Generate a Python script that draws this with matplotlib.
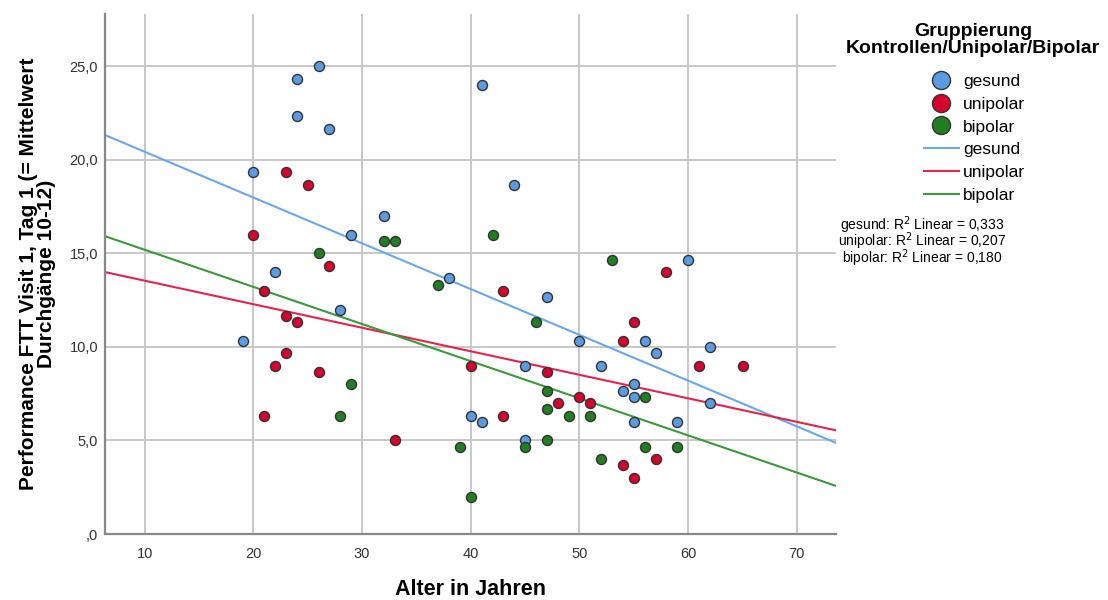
import numpy as np
import matplotlib
matplotlib.use("Agg")
import matplotlib.pyplot as plt
from matplotlib.lines import Line2D
from matplotlib.ticker import FuncFormatter

plt.rcParams['font.family'] = ['Liberation Sans', 'DejaVu Sans']

# Alter / Performance per group
gesund_age = [26, 24, 24, 27, 20, 29, 22, 28, 19, 41, 44, 32, 38, 47, 50, 45, 40, 41, 45,
              60, 56, 62, 57, 52, 55, 54, 55, 62, 55, 59]
gesund_perf = [25.0, 24.33, 22.33, 21.67, 19.33, 16.0, 14.0, 12.0, 10.33, 24.0, 18.67, 17.0,
               13.67, 12.67, 10.33, 9.0, 6.33, 6.0, 5.0, 14.67, 10.33, 10.0, 9.67, 9.0, 8.0,
               7.67, 7.33, 7.0, 6.0, 6.0]

unipolar_age = [23, 25, 20, 27, 21, 23, 24, 23, 22, 26, 21, 43, 40, 47, 50, 48, 43, 33,
                58, 55, 54, 61, 65, 51, 57, 54, 55]
unipolar_perf = [19.33, 18.67, 16.0, 14.33, 13.0, 11.67, 11.33, 9.67, 9.0, 8.67, 6.33, 13.0,
                 9.0, 8.67, 7.33, 7.0, 6.33, 5.0, 14.0, 11.33, 10.33, 9.0, 9.0, 7.0, 4.0,
                 3.67, 3.0]

bipolar_age = [26, 29, 28, 32, 33, 42, 37, 46, 47, 47, 49, 51, 39, 45, 47, 40, 53, 56, 56,
               59, 52]
bipolar_perf = [15.0, 8.0, 6.33, 15.67, 15.67, 16.0, 13.33, 11.33, 7.67, 6.67, 6.33, 6.33,
                4.67, 4.67, 5.0, 2.0, 14.67, 7.33, 4.67, 4.67, 4.0]

group_names = ["gesund", "unipolar", "bipolar"]
r2_values = ["0,333", "0,207", "0,180"]
# fit lines as shown in the chart (intercept, slope)
fit_intercepts = [22.88, 14.80, 17.18]
fit_slopes = [-0.2447, -0.1258, -0.1985]

dot_colors = ["#5A9BE2", "#D8002C", "#217F21"]
line_colors = ["#6AA8EE", "#E2254C", "#3A9A3A"]

fig = plt.figure(figsize=(11.08, 6.0), dpi=100)
ax = fig.add_axes([0.0948, 0.11, 0.6597, 0.8667])

xlim = (6.35, 73.6)
ax.set_xlim(*xlim)
ax.set_ylim(0, 27.8)

groups = [(gesund_age, gesund_perf), (unipolar_age, unipolar_perf), (bipolar_age, bipolar_perf)]

xs = np.array(xlim)
for b0, b1, lc in zip(fit_intercepts, fit_slopes, line_colors):
    ax.plot(xs, b0 + b1 * xs, color=lc, lw=1.5, zorder=2)

for (age, perf), dc in zip(groups, dot_colors):
    ax.scatter(age, perf, s=52, color=dc, edgecolors="#333333", linewidths=1.0, zorder=3)

ax.set_xticks([10, 20, 30, 40, 50, 60, 70])
ax.set_yticks([0, 5, 10, 15, 20, 25])
ax.yaxis.set_major_formatter(FuncFormatter(lambda v, p: f"{v:.1f}".replace(".", ",").lstrip("0")))
ax.grid(True, color="#C8C8C8", lw=1.4)
ax.set_axisbelow(True)
ax.tick_params(length=0, labelsize=10.5, colors="#333333")
ax.tick_params(axis="y", pad=5)
ax.tick_params(axis="x", pad=9)

for s in ["top", "right"]:
    ax.spines[s].set_visible(False)
for s in ["left", "bottom"]:
    ax.spines[s].set_color("#888888")
    ax.spines[s].set_linewidth(1.6)

ax.set_xlabel("Alter in Jahren", fontsize=15.5, fontweight="bold", labelpad=13)
ax.set_ylabel("Performance FTT Visit 1, Tag 1 (= Mittelwert\nDurchgänge 10-12)",
              fontsize=15, fontweight="bold", labelpad=10, linespacing=0.88)

# legend
fig.text(0.878, 0.933, "Gruppierung\nKontrollen/Unipolar/Bipolar", ha="center", va="center",
         fontsize=14, fontweight="bold", linespacing=1.0)
handles = [Line2D([], [], ls="none", marker="o", ms=13, mfc=c, mec="#333333", mew=1.0)
           for c in dot_colors]
handles += [Line2D([], [], color=c, lw=1.5) for c in line_colors]
ax.legend(handles, group_names * 2, loc="upper left", bbox_to_anchor=(0.834, 0.877),
          bbox_transform=fig.transFigure, frameon=False, fontsize=12.5,
          handlelength=2.0, handletextpad=0.25, labelspacing=0.44, borderpad=0,
          borderaxespad=0)

for i, (name, r2) in enumerate(zip(group_names, r2_values)):
    fig.text(0.832, 0.625 - i * 0.0275, f"{name}: R$^2$ Linear = {r2}", ha="center",
             va="center", fontsize=10)

fig.savefig("out.png", dpi=100)
